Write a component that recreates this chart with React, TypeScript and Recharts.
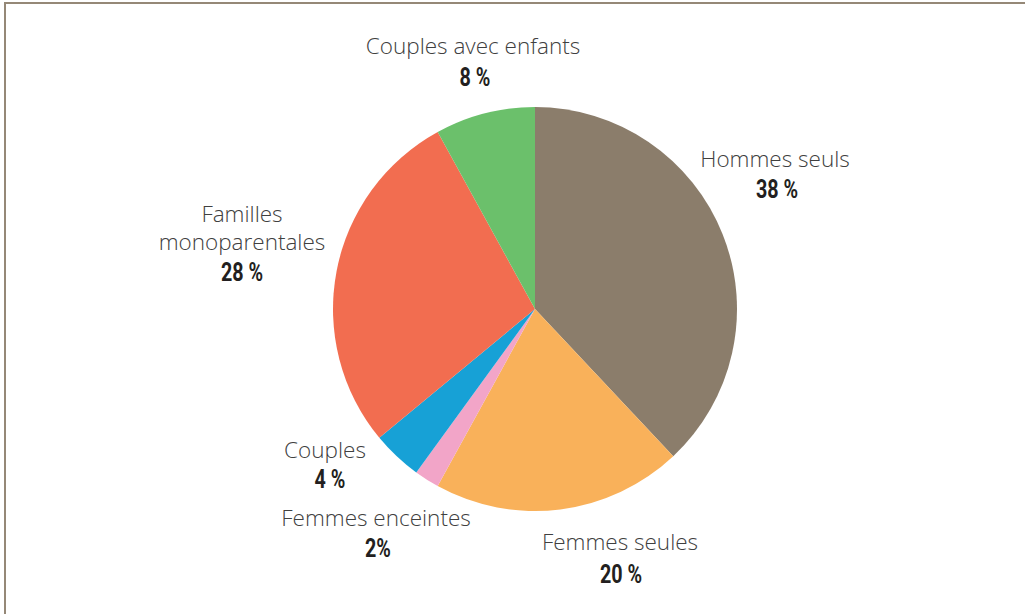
import React from "react";
import { PieChart, Pie, Cell } from "recharts";

const categories = [
  "Hommes seuls",
  "Femmes seules",
  "Femmes enceintes",
  "Couples",
  "Familles monoparentales",
  "Couples avec enfants",
];
const values = [38, 20, 2, 4, 28, 8];
const valueLabels = ["38 %", "20 %", "2%", "4 %", "28 %", "8 %"];
const colors = ["#8B7D6B", "#F9B15A", "#F2A5C8", "#17A1D6", "#F26D50", "#6BC06B"];

// label layout: name lines and offsets relative to pie centre
const labelLayout: { lines: string[]; dx: number; dy: number[]; pdx: number; pdy: number }[] = [
  { lines: ["Hommes seuls"], dx: 240, dy: [-151], pdx: 242, pdy: -119 },
  { lines: ["Femmes seules"], dx: 85, dy: [232], pdx: 86, pdy: 266 },
  { lines: ["Femmes enceintes"], dx: -159, dy: [208], pdx: -157, pdy: 240 },
  { lines: ["Couples"], dx: -210, dy: [140], pdx: -205, pdy: 171 },
  { lines: ["Familles", "monoparentales"], dx: -293, dy: [-96, -68], pdx: -293, pdy: -36 },
  { lines: ["Couples avec enfants"], dx: -62, dy: [-264], pdx: -60, pdy: -231 },
];

const data = categories.map((name, i) => ({ name, value: values[i] }));

const nameFont = "'Open Sans', 'Noto Sans', sans-serif";
const pctFont = "Roboto, 'Noto Sans', sans-serif";

const renderLabel = (props: any) => {
  const { cx, cy, index } = props;
  const l = labelLayout[index];
  const px = cx + l.pdx;
  const py = cy + l.pdy;
  return (
    <g key={`lbl-${index}`}>
      {l.lines.map((line, j) => (
        <text
          key={j}
          x={cx + l.dx}
          y={cy + l.dy[j]}
          textAnchor="middle"
          dominantBaseline="central"
          fill="#404040"
          fontFamily={nameFont}
          fontWeight={300}
          fontSize={22.5}
        >
          {line}
        </text>
      ))}
      <g transform={`translate(${px} ${py}) scale(0.76 1)`}>
        <text
          x={0}
          y={0}
          textAnchor="middle"
          dominantBaseline="central"
          fill="#231f20"
          fontFamily={pctFont}
          fontWeight={700}
          fontSize={26}
        >
          {valueLabels[index]}
        </text>
      </g>
    </g>
  );
};

export default function App() {
  return (
    <div style={{ position: "absolute", left: 0, top: 0, width: 1025, height: 614, background: "#fff" }}>
      <div
        style={{
          position: "absolute",
          left: 4,
          top: 2,
          width: 1021,
          height: 612,
          borderTop: "2px solid #958877",
          borderLeft: "2px solid #958877",
          boxSizing: "border-box",
        }}
      />
      <div style={{ position: "absolute", left: 0, top: 0 }}>
        <PieChart width={1025} height={614} margin={{ top: 0, right: 0, bottom: 0, left: 0 }}>
          <Pie
            data={data}
            dataKey="value"
            nameKey="name"
            cx={535}
            cy={309}
            outerRadius={202}
            startAngle={90}
            endAngle={-270}
            stroke="none"
            label={renderLabel}
            labelLine={false}
            isAnimationActive={false}
          >
            {data.map((d, i) => (
              <Cell key={d.name} fill={colors[i]} />
            ))}
          </Pie>
        </PieChart>
      </div>
    </div>
  );
}
